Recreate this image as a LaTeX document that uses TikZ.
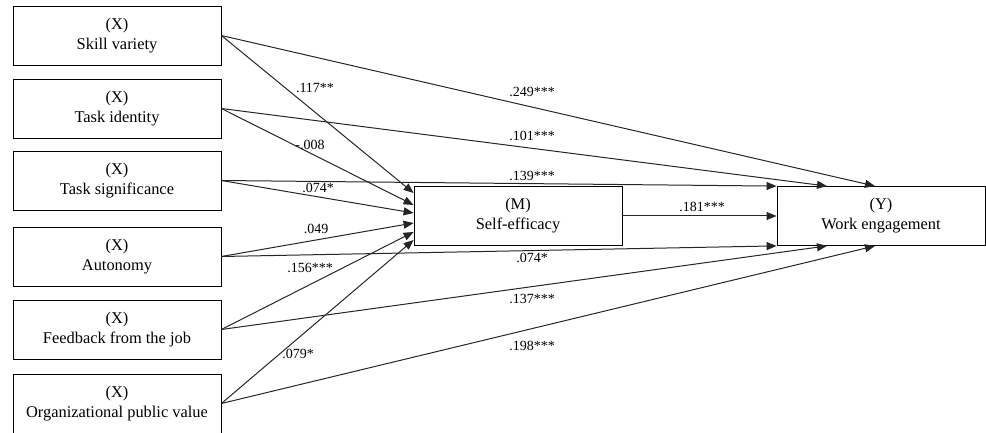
\documentclass[tikz,border=0pt]{standalone}
\usepackage{fontspec}
\setmainfont{Liberation Serif}
\usetikzlibrary{arrows.meta,positioning}

\tikzset{
  var/.style={draw, minimum width=104pt, minimum height=29.5pt, inner sep=0pt,
    align=center, font=\rmfamily\fontsize{8.2}{10}\selectfont},
  lnk/.style={-{Triangle[length=5pt,width=4pt]}, line width=0.5pt, draw=black!85},
  coef/.style={inner sep=1pt, font=\rmfamily\fontsize{7}{8}\selectfont}
}

\begin{document}
\begin{tikzpicture}[x=0.5pt,y=-0.5pt]
  \useasboundingbox (0,0) rectangle (986,433);
  % predictors
  \node[var] (sv)  at (117,35.5)  {(X)\\Skill variety};
  \node[var] (ti)  at (117,108.5) {(X)\\Task identity};
  \node[var] (ts)  at (117,180.5) {(X)\\Task significance};
  \node[var] (au)  at (117,256.5) {(X)\\Autonomy};
  \node[var] (fb)  at (117,329.5) {(X)\\Feedback from the job};
  \node[var] (opv) at (117,403.5) {(X)\\Organizational public value};
  % mediator and outcome
  \node[var] (m) at (518,216) {(M)\\Self-efficacy};
  \node[var] (y) at (881,216) {(Y)\\Work engagement};

  % paths to M
  \draw[lnk] (sv.east)  -- ([yshift=11.5pt]m.west);
  \draw[lnk] (ti.east)  -- ([yshift=5.5pt]m.west);
  \draw[lnk] (ts.east)  -- ([yshift=1.5pt]m.west);
  \draw[lnk] (au.east)  -- ([yshift=-3.5pt]m.west);
  \draw[lnk] (fb.east)  -- ([yshift=-8pt]m.west);
  \draw[lnk] (opv.east) -- ([yshift=-12pt]m.west);

  % paths to Y
  \draw[lnk] (sv.east)  -- ([xshift=-3pt]y.north);
  \draw[lnk] (ti.east)  -- ([xshift=-27pt]y.north);
  \draw[lnk] (ts.east)  -- (y.north west);
  \draw[lnk] (m.east)   -- (y.west);
  \draw[lnk] (au.east)  -- (y.south west);
  \draw[lnk] (fb.east)  -- ([xshift=-27pt]y.south);
  \draw[lnk] (opv.east) -- ([xshift=-3pt]y.south);

  % coefficients
  \node[coef] (a1) at (315,88)  {.117**};
  \node[coef] (a2) at (310,145) {-.008};
  \node[coef] (a3) at (318,188) {.074*};
  \node[coef] (a4) at (316,229) {.049};
  \node[coef] (a5) at (310,268) {.156***};
  \node[coef] (a6) at (298,354) {.079*};
  \node[coef] (c1) at (532,92)  {.249***};
  \node[coef] (c2) at (532,136) {.101***};
  \node[coef] (c3) at (532,176) {.139***};
  \node[coef] (c4) at (532,258) {.074*};
  \node[coef] (c5) at (532,299) {.137***};
  \node[coef] (c6) at (532,346) {.198***};
  \node[coef] (b)  at (702,207) {.181***};
\end{tikzpicture}
\end{document}
